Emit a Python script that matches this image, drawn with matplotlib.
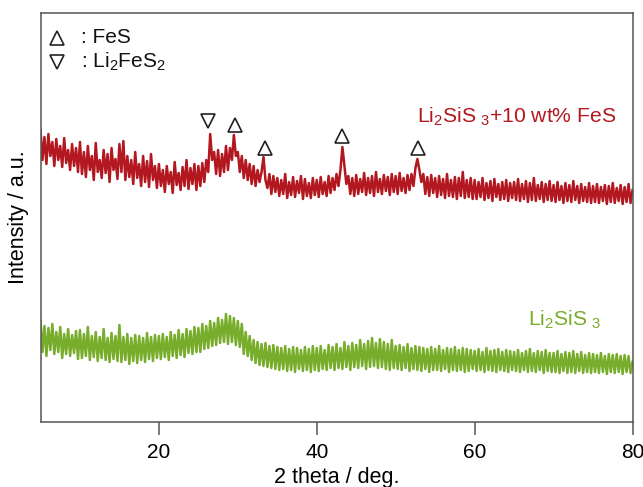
import numpy as np
import matplotlib
matplotlib.use("Agg")
import matplotlib.pyplot as plt

plt.rcParams['font.family'] = ['Liberation Sans', 'DejaVu Sans']
plt.rcParams['mathtext.default'] = 'regular'

# 2 theta grid, 0.25 deg steps from 5 to 80
two_theta = np.linspace(5, 80, 301)

# Li2SiS3 + 10 wt% FeS (intensity, arbitrary units)
fes_sample = [
    292, 262, 285, 258, 288, 266, 280, 256, 283, 262, 276, 255, 284, 259, 272, 252, 278, 256, 274, 250,
    280, 248, 270, 245, 276, 252, 266, 242, 279, 250, 262, 244, 272, 249, 268, 240, 274, 252, 263, 243,
    278, 250, 281, 242, 266, 245, 262, 238, 270, 244, 258, 236, 266, 240, 261, 235, 268, 242, 256, 234,
    258, 236, 252, 230, 256, 238, 250, 229, 260, 237, 249, 232, 255, 236, 262, 233, 254, 238, 258, 232,
    256, 236, 259, 240, 262, 250, 288, 262, 270, 248, 272, 246, 268, 250, 276, 252, 274, 262, 287, 266,
    270, 250, 266, 244, 262, 242, 258, 238, 256, 236, 252, 240, 250, 265, 242, 234, 248, 228, 246, 230,
    244, 226, 242, 228, 248, 224, 240, 227, 245, 225, 241, 229, 246, 223, 243, 226, 239, 224, 244, 227,
    242, 225, 245, 228, 240, 226, 246, 229, 244, 232, 248, 236, 252, 275, 256, 238, 246, 228, 244, 226,
    247, 228, 243, 230, 249, 227, 244, 229, 246, 226, 250, 230, 243, 228, 247, 231, 245, 227, 248, 230,
    246, 228, 249, 231, 244, 229, 247, 232, 248, 236, 254, 263, 252, 240, 248, 228, 245, 226, 247, 229,
    244, 225, 246, 227, 243, 224, 248, 226, 242, 225, 245, 223, 244, 226, 250, 224, 242, 225, 244, 223,
    242, 223, 240, 225, 244, 222, 239, 224, 241, 221, 243, 225, 238, 222, 240, 223, 242, 221, 239, 224,
    240, 222, 243, 221, 238, 223, 241, 220, 239, 222, 244, 221, 237, 223, 240, 220, 238, 222, 241, 221,
    237, 220, 240, 222, 236, 219, 239, 221, 237, 220, 241, 222, 236, 219, 238, 221, 235, 220, 239, 219,
    236, 220, 238, 219, 235, 221, 237, 218, 236, 220, 239, 219, 234, 221, 237, 218, 235, 220, 238, 219,
    232,
]

# Li2SiS3
pure_sample = [
    102, 70, 96, 66, 94, 72, 98, 68, 90, 70, 95, 64, 88, 68, 93, 66, 87, 69, 91, 63,
    92, 64, 88, 66, 95, 62, 86, 65, 90, 61, 85, 64, 93, 62, 84, 60, 89, 63, 86, 61,
    97, 60, 85, 62, 88, 58, 84, 61, 87, 59, 86, 62, 84, 60, 89, 63, 85, 61, 87, 64,
    86, 63, 88, 65, 85, 62, 90, 66, 87, 64, 92, 67, 88, 65, 93, 69, 91, 68, 95, 70,
    94, 70, 98, 73, 96, 74, 101, 76, 99, 77, 104, 79, 102, 80, 108, 78, 106, 80, 104, 77,
    101, 75, 98, 68, 90, 66, 86, 62, 82, 59, 80, 57, 78, 56, 79, 55, 76, 54, 77, 53,
    75, 52, 74, 53, 76, 51, 73, 52, 75, 50, 74, 53, 72, 51, 75, 52, 73, 50, 76, 52,
    74, 51, 76, 53, 72, 52, 77, 54, 75, 52, 78, 54, 74, 53, 80, 55, 76, 52, 79, 55,
    77, 54, 82, 56, 78, 53, 81, 55, 84, 56, 79, 54, 83, 55, 80, 53, 78, 52, 82, 54,
    76, 53, 77, 52, 75, 54, 78, 51, 74, 53, 76, 52, 75, 51, 74, 53, 73, 50, 75, 52,
    73, 52, 76, 51, 72, 53, 74, 50, 73, 52, 75, 51, 72, 52, 74, 50, 73, 51, 72, 53,
    71, 51, 73, 52, 70, 50, 74, 52, 71, 51, 72, 50, 73, 52, 70, 51, 72, 50, 71, 52,
    70, 51, 72, 50, 69, 52, 71, 50, 73, 51, 69, 50, 71, 52, 70, 49, 72, 51, 69, 50,
    69, 50, 71, 49, 68, 51, 70, 49, 69, 50, 71, 49, 68, 51, 70, 49, 67, 50, 69, 49,
    68, 50, 67, 49, 69, 50, 66, 48, 68, 50, 67, 49, 68, 50, 66, 48, 67, 50, 66, 49,
    60,
]

# peak markers: FeS (up triangles) and Li2FeS2 (down triangle)
fes_peak_x = [29.65, 33.45, 43.2, 52.85]
fes_peak_y = [297, 274, 286, 274]
li2fes2_peak_x = [26.25]
li2fes2_peak_y = [301]

red = '#b3171f'
green = '#78ad2b'
axis_grey = '#555555'

fig = plt.figure(figsize=(6.43, 4.87), dpi=100)
ax = fig.add_axes([40.5 / 643, 1 - 422 / 487, 592 / 643, 409.5 / 487])

ax.plot(two_theta, fes_sample, color=red, lw=1.8)
ax.plot(two_theta, pure_sample, color=green, lw=1.8)

ax.plot(fes_peak_x, fes_peak_y, ls='none', marker='^', ms=10,
        mfc='none', mec='#222222', mew=1.2)
ax.plot(li2fes2_peak_x, li2fes2_peak_y, ls='none', marker='v', ms=10,
        mfc='none', mec='#222222', mew=1.2)

# key in the upper left
ax.plot([0.028], [0.938], transform=ax.transAxes, marker='^', ms=10,
        mfc='none', mec='#222222', mew=1.2)
ax.plot([0.028], [0.879], transform=ax.transAxes, marker='v', ms=10,
        mfc='none', mec='#222222', mew=1.2)
ax.text(0.068, 0.938, ': FeS', transform=ax.transAxes, fontsize=15,
        va='center', ha='left', color='#111111')
ax.text(0.068, 0.879, r': Li$_2$FeS$_2$', transform=ax.transAxes, fontsize=15,
        va='center', ha='left', color='#111111')

ax.text(0.636, 0.745, r'Li$_2$SiS$_{\ 3}$+10 wt% FeS', transform=ax.transAxes,
        fontsize=15.2, color=red, ha='left', va='center')
ax.text(0.824, 0.249, r'Li$_2$SiS$_{\ 3}$', transform=ax.transAxes,
        fontsize=15.2, color=green, ha='left', va='center')

ax.set_xlim(5, 80)
ax.set_ylim(0, 409.5)
ax.set_xticks([20, 40, 60, 80])
ax.set_yticks([])
ax.tick_params(axis='x', direction='out', length=9, width=1.1,
               color=axis_grey, labelsize=15, pad=6)
for s in ax.spines.values():
    s.set_color(axis_grey)
    s.set_linewidth(1.1)

ax.set_xlabel('2 theta / deg.', fontsize=15.5, labelpad=4)
ax.set_ylabel('Intensity / a.u.', fontsize=15.5, labelpad=8)

fig.savefig('out.png', dpi=100)
